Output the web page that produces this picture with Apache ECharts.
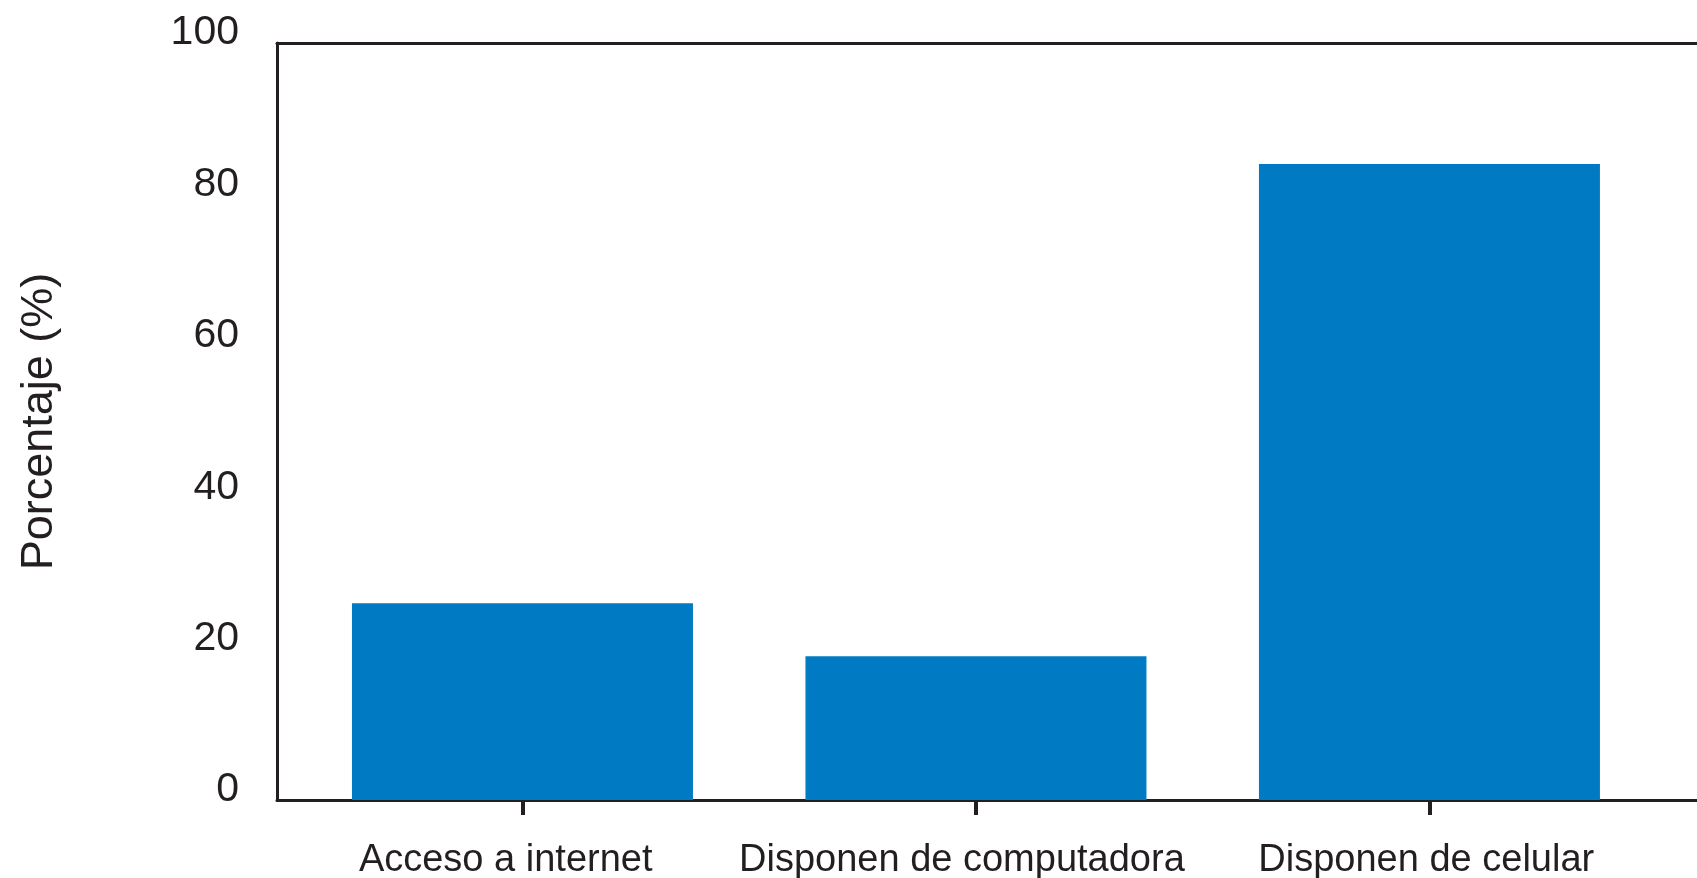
<!DOCTYPE html>
<html>
<head>
<meta charset="utf-8">
<script src="https://cdn.jsdelivr.net/npm/echarts@6/dist/echarts.min.js"></script>
<style>
html,body{margin:0;padding:0;background:#fff;}
#chart{width:1697px;height:878px;}
</style>
</head>
<body>
<div id="chart"></div>
<script>
const categories = ['Acceso a internet', 'Disponen de computadora', 'Disponen de celular'];
const values = [26, 19, 84];
const yTicks = [0, 20, 40, 60, 80, 100];
const yTitle = 'Porcentaje (%)';

const FONT = "'Liberation Sans', Arial, Helvetica, sans-serif";
const INK = '#231f20';
const positions = categories.map((c, i) => i);
// small horizontal nudges of the category labels, in band units (as in the original)
const labelNudge = [-0.037, -0.031, -0.007];
const labelPositions = positions.map((p, i) => p + labelNudge[i]);

const chart = echarts.init(document.getElementById('chart'), null, {renderer: 'canvas'});
chart.setOption({
  animation: false,
  backgroundColor: '#ffffff',
  grid: {left: 277, top: 43, bottom: 78, right: 0, containLabel: false, outerBoundsMode: 'none'},
  xAxis: [{
    type: 'value',
    min: -0.5413,
    max: 2.59,
    position: 'bottom',
    splitLine: {show: false},
    axisLine: {show: true, onZero: false, lineStyle: {color: INK, width: 3}},
    axisTick: {show: true, customValues: positions, length: 15, lineStyle: {color: INK, width: 4}},
    axisLabel: {
      show: true, customValues: labelPositions, margin: 42,
      formatter: v => categories[Math.round(v)],
      color: INK, fontSize: 38, fontFamily: FONT
    }
  }, {
    type: 'value',
    min: -0.5413,
    max: 2.59,
    position: 'top',
    splitLine: {show: false},
    axisLine: {show: true, onZero: false, lineStyle: {color: INK, width: 3}},
    axisTick: {show: false},
    axisLabel: {show: false}
  }],
  yAxis: {
    type: 'value',
    min: yTicks[0],
    max: yTicks[yTicks.length - 1],
    interval: 20,
    splitLine: {show: false},
    axisLine: {show: true, onZero: false, lineStyle: {color: INK, width: 3}},
    axisTick: {show: false},
    axisLabel: {
      margin: 38, color: INK, fontSize: 41, fontFamily: FONT,
      verticalAlign: 'bottom', lineHeight: 20
    },
    name: yTitle,
    nameLocation: 'middle',
    nameGap: 215,
    nameTextStyle: {color: INK, fontSize: 45, fontFamily: FONT}
  },
  series: [{
    type: 'bar',
    xAxisIndex: 0,
    data: values.map((v, i) => [positions[i], v]),
    barWidth: 341,
    itemStyle: {color: '#007AC2'}
  }]
});
</script>
</body>
</html>
